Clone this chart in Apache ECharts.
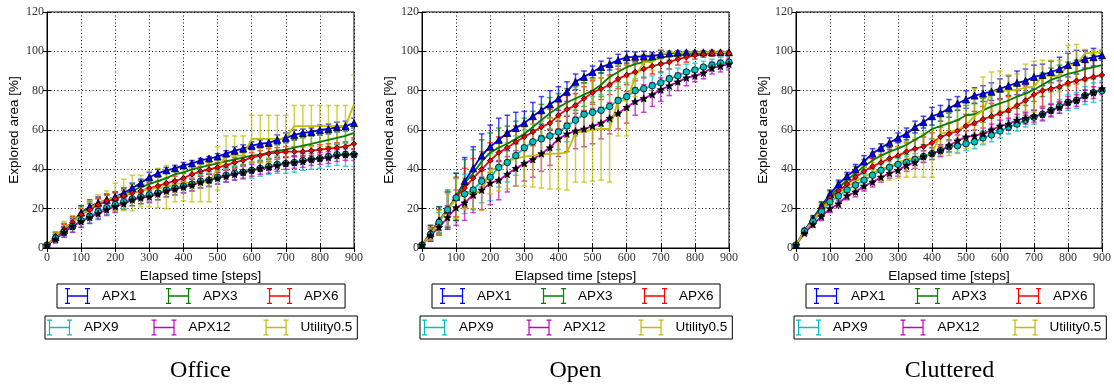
<!DOCTYPE html>
<html>
<head>
<meta charset="utf-8">
<script src="https://cdn.jsdelivr.net/npm/echarts@6/dist/echarts.min.js"></script>
<style>
html,body{margin:0;padding:0;background:#fff}
#main{width:1114px;height:388px}
</style>
</head>
<body>
<div id="main"></div>
<script>
var steps = [0,25,50,75,100,125,150,175,200,225,250,275,300,325,350,375,400,425,450,475,500,525,550,575,600,625,650,675,700,725,750,775,800,825,850,875,900];
var names = ['APX1','APX3','APX6','APX9','APX12','Utility0.5'];
var panelTitles = ['Office','Open','Cluttered'];

// Office
var o_apx1 = [1.5,5.5,9,12.5,18,21,23,24.5,26,28,30.5,33,36,38,39.5,40.5,42,43,44.5,45.5,46.5,48,49.5,50.5,52,53,53.5,55,56,57.5,58.5,59,60,60.5,61.5,62,63.5];
var o_apx3 = [1.5,6,10,13,18,20.5,22.5,24,25.5,27,29,31,32.5,34,35.5,37.5,38.5,40,41,42,43,44,45,46,47,47.5,48.5,49.5,50,51,52,53,54,55,56,57,58.5];
var o_apx6 = [1.5,6,9.5,13,17,19.5,22,24,25,26.5,28,29,30.5,31.5,33,34,35.5,37.5,39,40,41,42,43.5,44.5,46,47,48,48.5,49,49,49,49.5,50,50.5,51,51.5,53];
var o_apx9 = [1.5,5,8,11,14,16,18.5,20.5,22,23.5,25,26,27,28,29.5,30.5,31.5,32.5,34,34.5,36,37,38,38.5,39.5,40.5,41.5,42.5,43,43.5,44.5,45,45.5,46.5,47.5,47.5,47.5];
var o_apx12 = [1.5,4.5,8,11,13.5,15.5,17.5,19.5,21,22.5,24.5,25.5,26,27.5,29,30,31,32,33.5,34.5,35.5,36.5,37.5,38.5,39.5,40.5,41,42,43,43.5,44,45,45.5,46,47,47.5,47.5];
var o_util = [1.5,6,10,13,17,20,23,24.5,26,27,28,29,30,30.5,31,32.5,33,33.5,33.5,33.5,40.5,47,47,47,55.5,55.5,55.5,55.5,55.5,62,62,62,62,62,62,62,73];
var oe_apx1 = [0.5,1.5,2,2.5,3.5,3.5,3,3,2.5,2.5,2.5,2,2.5,2,1.5,1.5,1.5,1.5,1,1,1.5,1.5,2,2,2,2,2,2.5,2.5,2.5,2,2,2.5,2.5,2.5,2.5,2.5];
var oe_apx3 = [0.5,2,2.5,3,3.5,3,3,3,3,3.5,3.5,3,3,3,3.5,3,3,3,3,3,3,3,3.5,3.5,3.5,3.5,3.5,3.5,4,4,4,4,3.5,3.5,3.5,3.5,3.5];
var oe_apx6 = [0.5,2,2.5,3,3,3,3,3,3,3,3,2.5,2.5,2.5,2.5,2.5,2.5,2.5,2.5,2.5,2.5,2.5,2.5,2.5,2.5,2.5,2.5,2.5,2.5,2.5,2.5,2.5,2.5,2.5,2.5,2.5,3];
var oe_apx9 = [0.5,2,2.5,3,3.5,3.5,3.5,3.5,3.5,3.5,3.5,3.5,3.5,3.5,3.5,3.5,3.5,3.5,3.5,3.5,3.5,3.5,3.5,3.5,4,4,4,4.5,5,5,5,5,5,5,5.5,6,6];
var oe_apx12 = [0.5,2,2.5,3,3,3,3,3,3,3,3,3,3,3,3,3,3,3,3,3,3,3,3,3,3,3,3,3,3,3,3,3,3,3,3,3,3];
var oe_util = [0.5,2,3.5,3.5,3.5,4,4,4.5,7,8,9,8,9,10,11,9,9,10,10,10,11,10,10,10,12,12,12,12,12,10.5,10.5,10.5,10.5,10.5,10.5,10.5,15];

// Open
var p_apx1 = [1.5,7.5,14,19.5,26,34,40.5,47,51.5,55,58.5,61,63.5,67,70,73,76,79.5,84.5,87,89.5,92,93.5,95.5,97,97.2,97.5,97.5,98.5,99,99.3,99.5,99.5,99.5,99.5,99.5,99.5];
var p_apx3 = [1.5,7.5,14,19.5,26,33,38,44,48.5,51,53,55.5,58,61.5,65,68.5,71.5,74,76,78,80,83,87,89.5,92,93.5,94.5,95.5,96.8,97.5,98,98.5,98.8,99,99.2,99.3,99.4];
var p_apx6 = [1.5,7.5,13.5,19.5,26,30.5,35.5,40,44.5,48.5,51,54,56.5,59,61.5,63.5,67.5,70.5,72.5,76,79,81,83,86,88,89.5,91,92.5,93.5,94.5,96,97,98,98.5,99,99,99];
var p_apx9 = [1.5,7,13,19.5,25.5,27.5,29.5,34,36,41,43.5,47,51,54,55.5,57,59,62,65,68,69,70,72,75,77,80,81,82.5,84,86,87.5,89.5,90.5,92,93,94,94.5];
var p_apx12 = [1.5,6.5,10.5,15.5,20.5,23,27,29.5,33,34.5,37.5,40.5,43,45,48,51,55.5,58,59.5,60.5,62,63.5,66,68.5,71.5,74.5,76,78,80.5,82.5,84.5,86.5,87.5,89,91.5,92.5,93.5];
var p_util = [1.5,7,13,19.5,25,27.5,28,29,39.5,41,44,45.5,46.5,47,47.5,48,48,48.5,58.5,59.5,60,60.5,60.5,75,75,87,94.5,94.5,98.5,99.5,99.5,99.5,99.5,99.5,99.5,99.5,99.5];
var pe_apx1 = [0.5,4,7,9,12,12,11,11,11,11,9,8,6,7,7,7,6,5,4,3,3,3,3,3,3,2.5,2.5,2,2,1,1,0.5,0.5,0.5,0.5,0.5,0.5];
var pe_apx3 = [0.5,4,7,10,12,12,12,11,10,10,9,9,8,8,8,8,7,7,6,6,6,6,5,5,5,4,3.5,3,2.5,2,1.5,1,1,1,1,0.5,0.5];
var pe_apx6 = [0.5,3,6,9,10,10,10,9,9,8,8,8,7,7,7,7,7,7,6,6,6,5.5,5,5,5,4.5,4.5,4,4,3.5,3,2.5,2,1.5,1.5,1,1];
var pe_apx9 = [0.5,3,5,9,10,10,10,11,12,10,10,10,9,9,9,9,9,8,8,8,8,8,8,7,7,6,6,5,5,5,4,4,3.5,3,3,3,3];
var pe_apx12 = [0.5,3,4,6,9,9,9,10,11,10,9,9,9,9,9,9,9,9,9,9,9,8,8,8,8,7,7,6,6,5,4.5,4,3,3,3,3,3];
var pe_util = [0.5,3,6,8,10,8,8,10,12,12,14,14,15,16,17,18,18,19,25,26,26,26,27,18,18,10,4,4,2.5,0.5,0.5,0.5,0.5,0.5,0.5,0.5,0.5];

// Cluttered
var c_apx1 = [1.5,9,15,21.5,27.5,32.5,36.5,40,44,48,51,53.5,56,58,61.5,64,67,68.5,71,73.5,75.5,77.5,78.5,79.5,81,82.5,84,85,87,88,89.5,91,93,94.5,96,97,98];
var c_apx3 = [1.5,8.5,14.5,21,26.5,30.5,34.5,38,41.5,44.5,47,49,50.5,52.5,55,57.5,60.5,62,63.5,65,67.5,68,70,72,73.5,75,77,78.5,80.5,83,85.5,87,88.5,89.5,91,92,93];
var c_apx6 = [1.5,8.5,14,20,25.5,29,32.5,36,39,41.5,43.5,45.5,47,49,50.5,51.5,53.5,56.5,58,59.5,62,63.5,65.5,67,68.5,70,72.5,75,78,80,81,82,84,85,86,87,88];
var c_apx9 = [1.5,8.5,13.5,18.5,23.5,26.5,29.5,32,34.5,37,39.5,41,42.5,43.5,45,46.5,48,49.5,51.5,52,53,54,56,57.5,59.5,61.5,63,65,66.5,68,70,72,74,75,77.5,79,80];
var c_apx12 = [1.5,7.5,12,16,20,22.5,26.5,28.5,31.5,33.5,36,38,39.5,42,43.5,46.5,48,49.5,52,54.5,56.5,57,58,60,62,63,65,66,67,68,70,71.5,74,75,77.5,79,81];
var c_util = [1.5,8.5,14,19.5,24.5,28,31,34,36,38.5,40,41.5,43.5,45,46,47,48,58,59,60,62.5,67,70,79.5,80,80,80.5,81.5,82,87.5,87.5,87.5,93,93.5,99,99.5,99.5];
var ce_apx1 = [0.5,1,1.5,2,2,2,2,2.5,3,2.5,2,2.5,2.5,3,3,3,4.5,4,4.5,3.5,4.5,4,4,4.5,5,5,6,6,6,5.5,5.5,6,6,6,4.5,4.5,2.5];
var ce_apx3 = [0.5,1,1.5,2,2.5,3,3,3.5,3.5,4,4,4,4.5,5,5,5,5,5,5,5,5,5.5,6,6,6,6,6,6,6,6,6,6,6,6,6,6,6];
var ce_apx6 = [0.5,1,1.5,2,2,2.5,3,3.5,3.5,4,4,4.5,4.5,4.5,4.5,5,5,5,5.5,5.5,6,6,6.5,6.5,7,7,7.5,7.5,8,8,8,8,8.5,8.5,8.5,8.5,8.5];
var ce_apx9 = [0.5,1,1.5,2,2,2.5,2.5,3,3,3,3,3,3,3,3,3,3,3,3,3.5,3.5,3.5,3.5,3.5,3.5,3.5,3.5,3.5,3.5,3.5,3.5,3.5,4,4,4.5,5,5];
var ce_apx12 = [0.5,1,1.5,2,2,2,2,2.5,2.5,2.5,2.5,2.5,3,3,3,3,3,3,3,3,3,3,3,3,3,3,3,3,3,3,3,3,3,3,3,3,3];
var ce_util = [0.5,1,1.5,2,2.5,3,3.5,4,5,5,6,7,8,9,10,11,12,11,12,12,12,14,17,10,10,8,8,12,13,8,8,8,10,10,2,1,1];

var panels = [
    {means: [o_apx1,o_apx3,o_apx6,o_apx9,o_apx12,o_util], errs: [oe_apx1,oe_apx3,oe_apx6,oe_apx9,oe_apx12,oe_util]},
    {means: [p_apx1,p_apx3,p_apx6,p_apx9,p_apx12,p_util], errs: [pe_apx1,pe_apx3,pe_apx6,pe_apx9,pe_apx12,pe_util]},
    {means: [c_apx1,c_apx3,c_apx6,c_apx9,c_apx12,c_util], errs: [ce_apx1,ce_apx3,ce_apx6,ce_apx9,ce_apx12,ce_util]}
];

var colors = ['#0000ff','#008000','#ff0000','#00bfbf','#bf00bf','#bfbf00'];
var starPath = 'path://M0,-10L2.35,-3.24L9.51,-3.09L3.8,1.24L5.88,8.09L0,4L-5.88,8.09L-3.8,1.24L-9.51,-3.09L-2.35,-3.24Z';
var symbols = [
    {symbol: 'triangle', size: 7, fill: '#0000ff'},
    {symbol: 'none', size: 0, fill: '#008000'},
    {symbol: 'diamond', size: 5.5, fill: '#ff0000'},
    {symbol: 'circle', size: 6.5, fill: '#00bfbf'},
    {symbol: starPath, size: 7, fill: '#000'},
    {symbol: 'none', size: 0, fill: '#bfbf00'}
];
// error bar glyph for the legend
var barIcon = 'path://M0,0H5V1.2H3.1V14.8H5V16H0V14.8H1.9V1.2H0Z M20,0H25V1.2H23.1V14.8H25V16H20V14.8H21.9V1.2H20Z M3,7.3H22V8.7H3Z';

var lefts = [47, 422, 796];
var plotW = 307, plotTop = 12, plotH = 236;
var tickFont = {fontFamily: 'Liberation Serif', fontSize: 12, color: '#333'};
var sansName = {fontFamily: 'Liberation Sans', fontSize: 13.5, color: '#000'};

function errorBar(params, api) {
    var x = api.value(0);
    var lo = api.coord([x, api.value(1)]);
    var hi = api.coord([x, api.value(2)]);
    var w = 2.8;
    var st = {stroke: api.visual('color'), lineWidth: 1.5, opacity: 0.7};
    return {
        type: 'group',
        children: [
            {type: 'line', shape: {x1: lo[0], y1: lo[1], x2: hi[0], y2: hi[1]}, style: st},
            {type: 'line', shape: {x1: lo[0] - w, y1: lo[1], x2: lo[0] + w, y2: lo[1]}, style: st},
            {type: 'line', shape: {x1: hi[0] - w, y1: hi[1], x2: hi[0] + w, y2: hi[1]}, style: st}
        ]
    };
}

var grid = [], xAxis = [], yAxis = [], series = [], legend = [], title = [];
var dots = {color: '#000', type: [1, 2.5], width: 1};

panels.forEach(function (pn, p) {
    grid.push({left: lefts[p], top: plotTop, width: plotW, height: plotH, show: true, borderColor: '#000', borderWidth: 1});
});
panels.forEach(function (pn, p) {
    xAxis.push({
        type: 'value', gridIndex: p, min: 0, max: 900, interval: 100,
        name: 'Elapsed time [steps]', nameLocation: 'middle', nameGap: 18, nameTextStyle: sansName,
        axisLine: {show: true, lineStyle: {color: '#000'}},
        axisTick: {show: true, inside: true, length: 4, lineStyle: {color: '#000'}},
        axisLabel: {margin: 4, fontFamily: tickFont.fontFamily, fontSize: tickFont.fontSize, color: tickFont.color},
        splitLine: {show: true, lineStyle: dots}
    });
    yAxis.push({
        type: 'value', gridIndex: p, min: 0, max: 120, interval: 20,
        name: 'Explored area [%]', nameLocation: 'middle', nameGap: 26, nameTextStyle: sansName,
        axisLine: {show: true, lineStyle: {color: '#000'}},
        axisTick: {show: true, inside: true, length: 4, lineStyle: {color: '#000'}},
        axisLabel: {margin: 3, fontFamily: tickFont.fontFamily, fontSize: tickFont.fontSize, color: tickFont.color},
        splitLine: {show: true, lineStyle: dots}
    });
});
// top and right axes only carry the inner ticks
panels.forEach(function (pn, p) {
    xAxis.push({
        type: 'value', gridIndex: p, position: 'top', min: 0, max: 900, interval: 100,
        axisLine: {show: false}, axisLabel: {show: false}, splitLine: {show: false},
        axisTick: {show: true, inside: true, length: 4, lineStyle: {color: '#000'}}
    });
    yAxis.push({
        type: 'value', gridIndex: p, position: 'right', min: 0, max: 120, interval: 20,
        axisLine: {show: false}, axisLabel: {show: false}, splitLine: {show: false},
        axisTick: {show: true, inside: true, length: 4, lineStyle: {color: '#000'}}
    });
});

panels.forEach(function (pn, p) {
    names.forEach(function (nm, k) {
        var bars = steps.map(function (s, i) {
            return [s, pn.means[k][i] - pn.errs[k][i], pn.means[k][i] + pn.errs[k][i]];
        });
        series.push({
            name: nm + ' err', type: 'custom', xAxisIndex: p, yAxisIndex: p,
            renderItem: errorBar, clip: true, z: 2,
            itemStyle: {color: colors[k]},
            encode: {x: 0, y: [1, 2]},
            data: bars
        });
    });
    names.forEach(function (nm, k) {
        var pts = steps.map(function (s, i) { return [s, pn.means[k][i]]; });
        series.push({
            name: nm, type: 'line', xAxisIndex: p, yAxisIndex: p, z: 3,
            symbol: symbols[k].symbol, symbolSize: symbols[k].size, showAllSymbol: true,
            lineStyle: {color: colors[k], width: 1.8},
            itemStyle: {color: symbols[k].fill, borderColor: '#000', borderWidth: 0.8},
            data: pts
        });
    });
});

panels.forEach(function (pn, p) {
    var off = lefts[p] - lefts[0];
    var base = {
        orient: 'horizontal', selectedMode: false,
        itemWidth: 25, itemHeight: 16, symbolKeepAspect: false,
        borderColor: '#000', borderWidth: 1, borderRadius: 0,
        itemStyle: {borderWidth: 0},
        textStyle: {fontFamily: 'Liberation Sans', fontSize: 13.5, color: '#000', padding: [0, 0, 0, 7]}
    };
    legend.push(Object.assign({}, base, {
        left: 57 + off, top: 284, itemGap: 29.5, padding: [4, 6.5, 4, 8],
        data: names.slice(0, 3).map(function (n, k) { return {name: n, icon: barIcon, itemStyle: {color: colors[k]}}; })
    }));
    legend.push(Object.assign({}, base, {
        left: 45 + off, top: 316, itemGap: 33, padding: [3.5, 5, 3.5, 2],
        data: names.slice(3).map(function (n, k) { return {name: n, icon: barIcon, itemStyle: {color: colors[k + 3]}}; })
    }));
    title.push({
        text: panelTitles[p], left: lefts[p] + plotW / 2, top: 359, padding: 0, textAlign: 'center',
        textStyle: {fontFamily: 'Liberation Serif', fontSize: 24, fontWeight: 'normal', color: '#000'}
    });
});

var myChart = echarts.init(document.getElementById('main'));
var option = {
    backgroundColor: '#fff',
    animation: false,
    title: title,
    grid: grid,
    xAxis: xAxis,
    yAxis: yAxis,
    legend: legend,
    series: series
};
myChart.setOption(option);
</script>
</body>
</html>
